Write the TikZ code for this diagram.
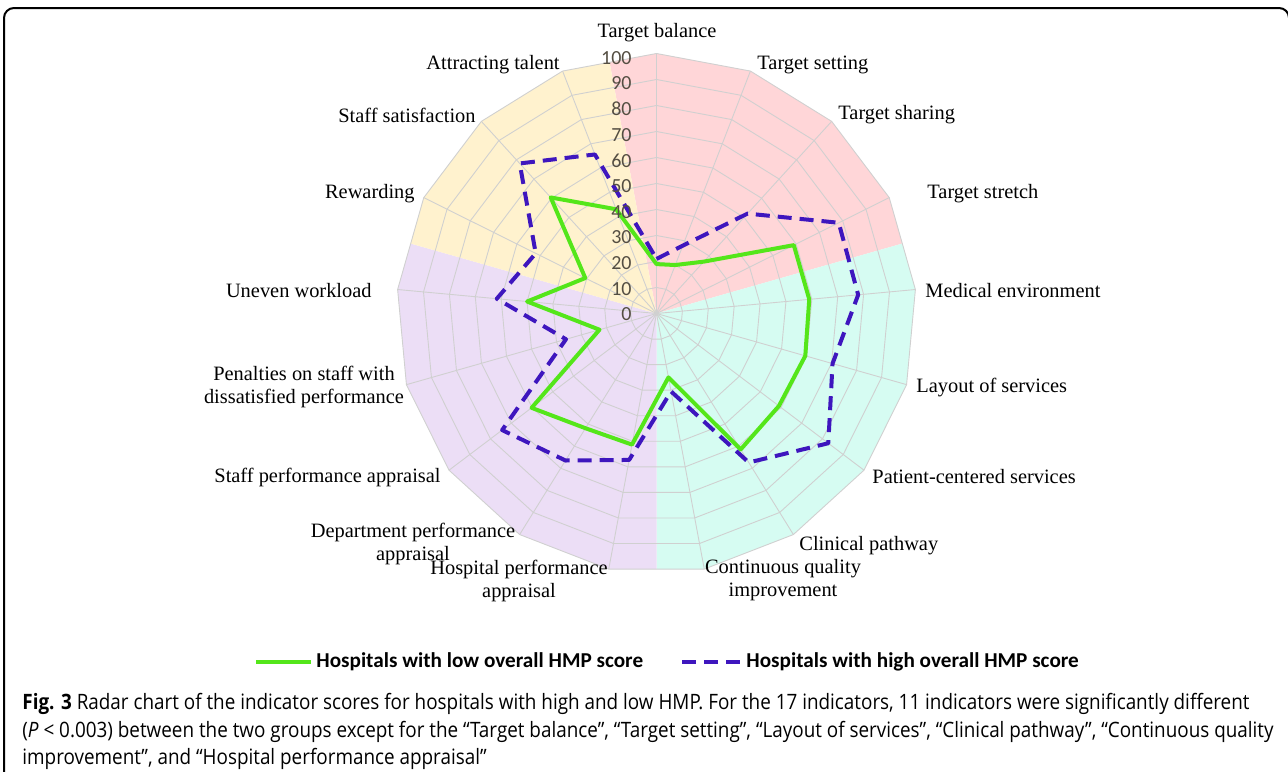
\documentclass[tikz,border=0pt]{standalone}
\usepackage{fontspec}
\setmainfont{Liberation Serif}
\newfontfamily\tickfont{Carlito}
\newfontfamily\capfont[FakeStretch=0.89]{Open Sans}
\usepackage{xcolor}
\usepackage{tikz}
\usetikzlibrary{positioning}

\definecolor{sectred}{RGB}{255,214,216}
\definecolor{sectcyan}{RGB}{214,252,242}
\definecolor{sectpurple}{RGB}{236,222,246}
\definecolor{sectyellow}{RGB}{255,242,206}
\definecolor{gridgray}{RGB}{208,208,208}
\definecolor{lowgreen}{RGB}{84,230,26}
\definecolor{highblue}{RGB}{62,22,190}
\definecolor{ticktext}{RGB}{84,78,66}

\begin{document}
\begin{tikzpicture}[x=0.5pt, y=-0.5pt,
    axlabel/.style={font=\fontsize{10.2}{11.5}\selectfont, inner sep=0pt, align=center},
    ticklabel/.style={font=\tickfont\fontsize{10}{12}\selectfont, text=ticktext, anchor=east, inner sep=0pt},
    gridline/.style={draw=gridgray, line width=0.45pt},
    lowline/.style={draw=lowgreen, line width=2pt, line join=round},
    highline/.style={draw=highblue, line width=2pt, dash pattern=on 7pt off 4pt, line join=round},
    legendtext/.style={font=\tickfont\bfseries\fontsize{10.6}{12}\selectfont, anchor=west, inner sep=0pt},
]
\useasboundingbox (0,0) rectangle (1288,771);
\clip (0,0) rectangle (1288,771);

% Frame
\draw[line width=1pt, rounded corners=5pt] (4,790) -- (4,8) -- (1289,8) -- (1289,790);

% Radar chart
\begin{scope}[shift={(656.5,313.5)}, yscale=-1]
  \foreach \k in {0,...,16} {
    \coordinate (v\k) at ({90-\k*360/17}:260);
    \coordinate (m\k) at ({90-(\k+0.5)*360/17}:{260*cos(180/17)});
  }
  % Sectors
  \fill[sectred] (0,0) -- (m16) -- (v0) -- (v1) -- (v2) -- (v3) -- (m3) -- cycle;
  \fill[sectcyan] (0,0) -- (m3) -- (v4) -- (v5) -- (v6) -- (v7) -- (v8) -- (m8) -- cycle;
  \fill[sectpurple] (0,0) -- (m8) -- (v9) -- (v10) -- (v11) -- (v12) -- (v13) -- (m13) -- cycle;
  \fill[sectyellow] (0,0) -- (m13) -- (v14) -- (v15) -- (v16) -- (m16) -- cycle;

  % Grid
  \foreach \r in {1,...,10}
    \draw[gridline] (90:{\r*26}) \foreach \k in {1,...,16} { -- ({90-\k*360/17}:{\r*26}) } -- cycle;
  \foreach \k in {0,...,16}
    \draw[gridline] (0,0) -- (v\k);

  % Scores
  \foreach \k/\s in {0/19, 1/20, 2/27, 3/59, 4/59, 5/59.5, 6/59, 7/61.5, 8/25,
                     9/51.3, 10/51.9, 11/60.2, 12/22.8, 13/50, 14/30.6, 15/60.4, 16/43}
    \coordinate (lo\k) at ({90-\k*360/17}:{2.6*\s});
  \foreach \k/\s in {0/21, 1/28, 2/52, 3/78.3, 4/77.9, 5/70.4, 6/82.8, 7/67.4, 8/30.5,
                     9/57.3, 10/66.5, 11/74.4, 12/36.2, 13/61.7, 14/51.9, 15/78.1, 16/65.6}
    \coordinate (hi\k) at ({90-\k*360/17}:{2.6*\s});
  \draw[lowline] (lo0) -- (lo1) -- (lo2) -- (lo3) -- (lo4) -- (lo5) -- (lo6) -- (lo7) -- (lo8)
    -- (lo9) -- (lo10) -- (lo11) -- (lo12) -- (lo13) -- (lo14) -- (lo15) -- (lo16) -- cycle;
  \draw[highline] (hi0) -- (hi1) -- (hi2) -- (hi3) -- (hi4) -- (hi5) -- (hi6) -- (hi7) -- (hi8)
    -- (hi9) -- (hi10) -- (hi11) -- (hi12) -- (hi13) -- (hi14) -- (hi15) -- (hi16) -- cycle;

  % Scale
  \foreach \t in {0,...,10}
    \node[ticklabel] (tick\t) at (-24.5,{\t*25.66-0.8}) {\the\numexpr\t*10\relax};
\end{scope}

% Indicator labels
\node[axlabel] (balance) at (657,33) {Target balance};
\node[axlabel, anchor=west] (setting) at (757,65) {Target setting};
\node[axlabel, anchor=west] (sharing) at (838,115) {Target sharing};
\node[axlabel, anchor=west] (stretch) at (927,194) {Target stretch};
\node[axlabel, anchor=west] (medenv) at (925,291) {Medical environment};
\node[axlabel, anchor=west] (layout) at (916,388) {Layout of services};
\node[axlabel, anchor=west] (patient) at (872,477) {Patient-centered services};
\node[axlabel, anchor=west] (pathway) at (799,546) {Clinical pathway};
\node[axlabel] (quality) at (783,580) {Continuous quality\\improvement};
\node[axlabel] (hospappr) at (519,581) {Hospital performance\\appraisal};
\node[axlabel] (deptappr) at (413,544) {Department performance\\appraisal};
\node[axlabel, anchor=east] (staffappr) at (441,477) {Staff performance appraisal};
\node[axlabel] (penalties) at (304,387) {Penalties on staff with\\dissatisfied performance};
\node[axlabel, anchor=east] (workload) at (372,291) {Uneven workload};
\node[axlabel, anchor=east] (rewarding) at (415,194) {Rewarding};
\node[axlabel, anchor=east] (satisfaction) at (476,115) {Staff satisfaction};
\node[axlabel, anchor=east] (talent) at (560,65) {Attracting talent};

% Legend
\coordinate (lowstart) at (256,662);
\node[legendtext] (lowkey) at (316,662) {Hospitals with low overall HMP score};
\draw[lowline] (lowstart) -- ([xshift=-2.5pt]lowkey.west);
\coordinate (highstart) at (682,662);
\node[legendtext] (highkey) at (746,662) {Hospitals with high overall HMP score};
\draw[highline] (highstart) -- ([xshift=-3pt]highkey.west);

% Caption
\node[font=\capfont\fontsize{10.6}{13.7}\selectfont, anchor=north west, inner sep=0pt, align=left] (caption) at (22,693)
  {\textbf{Fig. 3} Radar chart of the indicator scores for hospitals with high and low HMP. For the 17 indicators, 11 indicators were significantly different\\
   (\textit{P} < 0.003) between the two groups except for the “Target balance”, “Target setting”, “Layout of services”, “Clinical pathway”, “Continuous quality\\
   improvement”, and “Hospital performance appraisal”};
\end{tikzpicture}
\end{document}
